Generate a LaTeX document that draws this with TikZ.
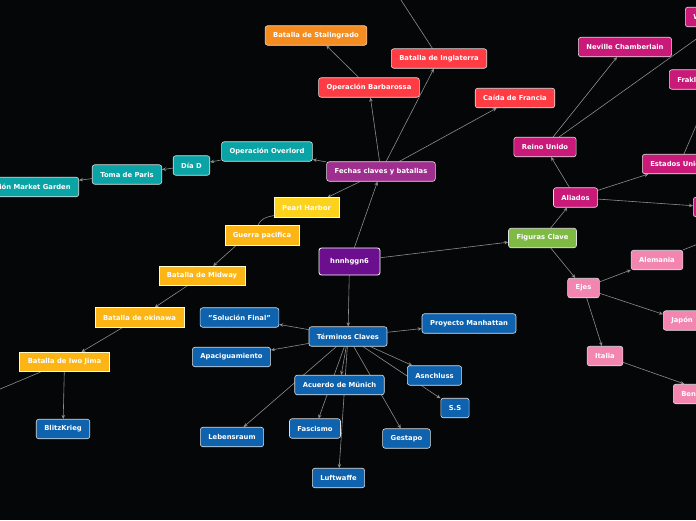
\documentclass[tikz,border=0pt]{standalone}
\usepackage{fontspec}
\setmainfont{DejaVu Sans}
\usetikzlibrary{arrows.meta,backgrounds}
\definecolor{bgc}{HTML}{050608}
\definecolor{cpurp}{HTML}{6B0F8E}
\definecolor{cfech}{HTML}{9E2F8E}
\definecolor{cred}{HTML}{FF3B44}
\definecolor{corng}{HTML}{F58C1F}
\definecolor{cteal}{HTML}{0BA4A6}
\definecolor{cyel}{HTML}{FCD21C}
\definecolor{camb}{HTML}{FDB515}
\definecolor{cblue}{HTML}{0E62AE}
\definecolor{cgrn}{HTML}{7FBB44}
\definecolor{cmag}{HTML}{C91A7A}
\definecolor{cpink}{HTML}{F286B0}
\definecolor{clink}{HTML}{8C8C8C}
\begin{document}
\begin{tikzpicture}[x=1pt,y=-1pt,
    every node/.style={font=\fontsize{6.8}{8}\selectfont\bfseries,text=white},
    box/.style={draw=white!88!black,line width=0.6pt,rounded corners=2.5pt,
        minimum height=19.5pt,inner xsep=8pt,inner ysep=0pt},
    sq/.style={box,sharp corners,draw=white!80!yellow},
    arr/.style={draw=clink,line width=0.6pt,-{Stealth[length=4pt,width=3.5pt]}},
    lnk/.style={draw=clink,line width=0.6pt}]
    \useasboundingbox (0,0) rectangle (696,520);

    % centre
    \node[box,fill=cpurp,draw=white,line width=0.8pt,minimum width=61pt,minimum height=27pt](root)at(349.5,261.5) {hnnhggn6};

    % fechas claves
    \node[box,fill=cfech](fech)at(381,171.5) {Fechas claves y batallas};
    \node[box,fill=cred](barb)at(369,87.5) {Operación Barbarossa};
    \node[box,fill=cred](ingl)at(439,58.5) {Batalla de Inglaterra};
    \node[box,fill=cred](fran)at(515,98) {Caída de Francia};
    \node[box,fill=corng](stal)at(316,35.5) {Batalla de Stalingrado};
    \node[box,fill=cteal](over)at(267,151.5) {Operación Overlord};
    \node[box,fill=cteal](diad)at(191.5,165.5) {Día D};
    \node[box,fill=cteal](paris)at(127,174.5) {Toma de Paris};
    \node[box,fill=cteal,anchor=east](mkt)at(79,187) {Operación Market Garden};
    \node[sq,fill=cyel](pearl)at(306.5,207.5) {Pearl Harbor};
    \node[sq,fill=camb](gpac)at(262,235.5) {Guerra pacifica};
    \node[sq,fill=camb](midw)at(202,276) {Batalla de Midway};
    \node[sq,fill=camb](okin)at(139.5,317.5) {Batalla de okinawa};
    \node[sq,fill=camb](iwo)at(64.5,362) {Batalla de Iwo Jima};
    \node[box,fill=cblue](blitz)at(63,429) {BlitzKrieg};
    \coordinate (ingl up)at(375,-40);
    \coordinate (iwo out)at(-100,431);

    % terminos claves
    \node[box,fill=cblue](term)at(348,336.5) {Términos Claves};
    \node[box,fill=cblue](sol)at(239.5,317.5) {"Solución Final"};
    \node[box,fill=cblue](apac)at(231.5,357) {Apaciguamiento};
    \node[box,fill=cblue](manh)at(469,323.5) {Proyecto Manhattan};
    \node[box,fill=cblue](mun)at(339.5,385) {Acuerdo de Münich};
    \node[box,fill=cblue](ansc)at(434.5,375.5) {Asnchluss};
    \node[box,fill=cblue](ss)at(455,408) {S.S};
    \node[box,fill=cblue](leb)at(232,437) {Lebensraum};
    \node[box,fill=cblue](fasc)at(315,428.5) {Fascismo};
    \node[box,fill=cblue](gest)at(406.5,438.5) {Gestapo};
    \node[box,fill=cblue](luft)at(338.5,478) {Luftwaffe};

    % figuras clave
    \node[box,fill=cgrn](fig)at(542.5,238) {Figuras Clave};
    \node[box,fill=cmag](ali)at(575.5,197.5) {Aliados};
    \node[box,fill=cmag](reino)at(545,147) {Reino Unido};
    \node[box,fill=cmag](nev)at(625,47) {Neville Chamberlain};
    \node[box,fill=cmag,anchor=west](win)at(685,17) {Winston Churchill};
    \node[box,fill=cmag,anchor=west](frank)at(669,79.5) {Fraklin D. Roosevelt};
    \node[box,fill=cmag,anchor=west](eeuu)at(642,164) {Estados Unidos};
    \node[box,fill=cmag,anchor=west](urss)at(693,207) {URSS};
    \node[box,fill=cpink](ejes)at(583.5,288) {Ejes};
    \node[box,fill=cpink](alem)at(657,260) {Alemania};
    \node[box,fill=cpink,anchor=west](jap)at(663,320.5) {Japón};
    \node[box,fill=cpink](ita)at(605,356) {Italia};
    \node[box,fill=cpink,anchor=west](ben)at(673,394) {Benito Mussolini};
    \coordinate (alem out)at(760,220);

    \begin{scope}[on background layer]
        \fill[bgc] (0,0) rectangle (696,520);
        \clip (0,0) rectangle (696,520);
        \draw[arr](root) -- (fech);
        \draw[arr](root) -- (term);
        \draw[arr](root) -- (fig);

        \draw[arr](fech) -- (barb);
        \draw[arr](fech) -- (ingl);
        \draw[arr](fech) -- (fran);
        \draw[arr](fech) -- (over);
        \draw[arr](fech) -- (pearl);
        \draw[arr](barb) -- (stal);
        \draw[lnk](ingl) -- (ingl up);
        \draw[arr](over) -- (diad);
        \draw[arr](diad) -- (paris);
        \draw[arr](paris) -- (mkt);
        \draw[lnk]([yshift=2pt]pearl.south west) to[out=190,in=70] ([xshift=-4pt]gpac.north);
        \draw[arr]([xshift=-26pt]gpac.south) -- (midw);
        \draw[arr](midw) -- (okin);
        \draw[arr](okin) -- (iwo);
        \draw[arr](iwo) -- (blitz);
        \draw[lnk](iwo) -- (iwo out);

        \draw[arr](term) -- (sol);
        \draw[arr](term) -- (apac);
        \draw[arr](term) -- (manh);
        \draw[arr](term) -- (mun);
        \draw[arr](term) -- (ansc);
        \draw[arr](term) -- (ss);
        \draw[arr](term) -- (leb);
        \draw[arr](term) -- (fasc);
        \draw[arr](term) -- (gest);
        \draw[arr](term) -- (luft);

        \draw[arr](fig) -- (ali);
        \draw[arr](fig) -- (ejes);
        \draw[arr](ali) -- (reino);
        \draw[arr](ali) -- (eeuu);
        \draw[arr](ali) -- (urss);
        \draw[arr](reino) -- (nev);
        \draw[arr](reino) -- (win);
        \draw[arr](eeuu) -- (frank);
        \draw[arr](ejes) -- (alem);
        \draw[arr](ejes) -- (jap);
        \draw[arr](ejes) -- (ita);
        \draw[arr](ita) -- (ben);
        \draw[lnk](alem) -- (alem out);
    \end{scope}
\end{tikzpicture}
\end{document}
